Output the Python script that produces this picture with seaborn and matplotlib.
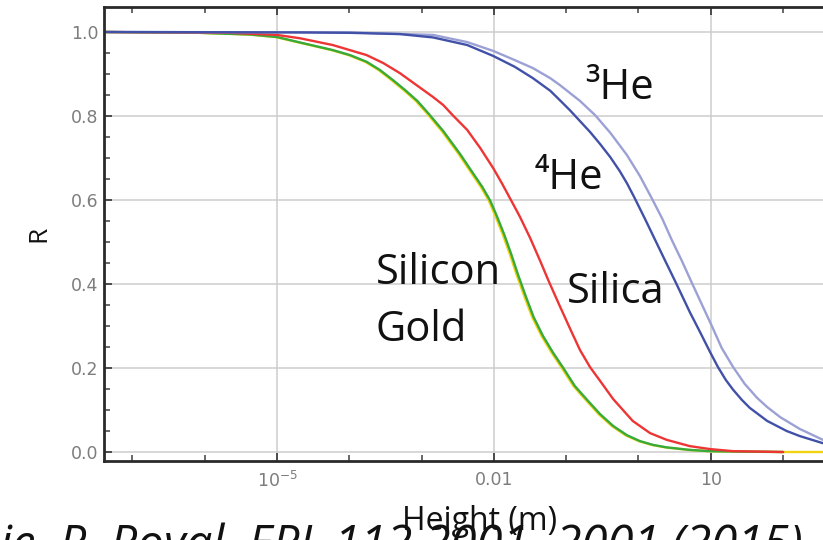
import numpy as np
import pandas as pd
import matplotlib
matplotlib.use("Agg")
import matplotlib.pyplot as plt
import seaborn as sns
from matplotlib.ticker import FixedLocator, FixedFormatter, NullFormatter

# Reflection probability R versus fall height, one curve per surface.
# Heights are stored as log10(height / m).
silicon_logh = [-7.39, -6.76, -6.07, -5.37, -5.00, -4.68, -4.23, -3.99, -3.76, -3.58,
                -3.40, -3.23, -3.06, -2.91, -2.70, -2.47, -2.29, -2.16, -2.05, -1.96,
                -1.86, -1.76, -1.67, -1.56, -1.45, -1.32, -1.18, -1.04, -0.88, -0.71,
                -0.53, -0.35, -0.16, 0.02, 0.20, 0.39, 0.71, 0.99, 1.40, 2.00]
silicon_r = [1.000, 0.999, 0.998, 0.994, 0.988, 0.975, 0.957, 0.945, 0.929, 0.910,
             0.886, 0.862, 0.836, 0.807, 0.764, 0.710, 0.664, 0.631, 0.598, 0.562,
             0.519, 0.471, 0.424, 0.371, 0.321, 0.276, 0.236, 0.200, 0.157, 0.124,
             0.090, 0.062, 0.040, 0.026, 0.017, 0.011, 0.005, 0.002, 0.001, 0.000]

gold_logh = [-7.39, -6.76, -6.07, -5.39, -5.02, -4.70, -4.25, -4.01, -3.78, -3.60,
             -3.42, -3.25, -3.08, -2.93, -2.72, -2.49, -2.31, -2.18, -2.07, -1.98,
             -1.88, -1.78, -1.69, -1.58, -1.47, -1.34, -1.20, -1.06, -0.90, -0.73,
             -0.55, -0.37, -0.18, 0.00, 0.18, 0.37, 0.69, 0.97, 1.38, 2.00, 2.60]
gold_r = [1.000, 0.999, 0.998, 0.994, 0.988, 0.975, 0.957, 0.945, 0.929, 0.910,
          0.886, 0.862, 0.836, 0.807, 0.764, 0.710, 0.664, 0.631, 0.598, 0.562,
          0.519, 0.471, 0.424, 0.371, 0.321, 0.276, 0.236, 0.200, 0.157, 0.124,
          0.090, 0.062, 0.040, 0.026, 0.017, 0.011, 0.005, 0.002, 0.001, 0.000, 0.000]

silica_logh = [-7.39, -5.65, -5.00, -4.68, -4.23, -3.76, -3.53, -3.30, -2.84, -2.70,
               -2.57, -2.37, -2.19, -2.01, -1.89, -1.78, -1.64, -1.50, -1.36, -1.25,
               -1.09, -0.95, -0.81, -0.67, -0.53, -0.35, -0.08, 0.16, 0.39, 0.71,
               0.99, 1.31, 2.00]
silica_r = [1.000, 0.998, 0.993, 0.985, 0.969, 0.945, 0.926, 0.902, 0.845, 0.826,
            0.802, 0.767, 0.724, 0.676, 0.640, 0.605, 0.560, 0.510, 0.455, 0.410,
            0.348, 0.295, 0.243, 0.202, 0.169, 0.126, 0.074, 0.045, 0.029, 0.014,
            0.007, 0.002, 0.000]

he4_logh = [-7.39, -4.68, -3.99, -3.30, -2.84, -2.37, -2.01, -1.71, -1.46, -1.22,
            -1.09, -0.95, -0.81, -0.67, -0.53, -0.39, -0.26, -0.16, -0.06, 0.09,
            0.23, 0.37, 0.52, 0.71, 0.85, 0.99, 1.10, 1.21, 1.31, 1.43,
            1.54, 1.78, 2.05, 2.23, 2.55]
he4_r = [1.000, 0.999, 0.998, 0.995, 0.987, 0.969, 0.943, 0.917, 0.890, 0.860,
         0.838, 0.814, 0.788, 0.762, 0.733, 0.702, 0.669, 0.640, 0.607, 0.555,
         0.505, 0.455, 0.402, 0.333, 0.286, 0.238, 0.202, 0.171, 0.148, 0.124,
         0.105, 0.074, 0.050, 0.038, 0.021]

he3_logh = [-7.39, -3.99, -2.84, -2.37, -2.01, -1.71, -1.46, -1.22, -1.09, -0.95,
            -0.81, -0.60, -0.39, -0.16, 0.02, 0.19, 0.33, 0.46, 0.60, 0.74,
            0.88, 1.02, 1.15, 1.31, 1.47, 1.64, 1.78, 1.96, 2.23, 2.55]
he3_r = [1.000, 0.999, 0.993, 0.976, 0.955, 0.933, 0.914, 0.890, 0.874, 0.855,
         0.836, 0.802, 0.760, 0.707, 0.657, 0.602, 0.555, 0.505, 0.455, 0.402,
         0.350, 0.298, 0.248, 0.202, 0.162, 0.129, 0.107, 0.083, 0.055, 0.029]

surfaces = ["Gold", "Silicon", "Silica", "3He", "4He"]
colors = ["#f2d313", "#36aa3a", "#ee3535", "#9ca1d5", "#4151a8"]

frames = []
for name, lh, r in [("Gold", gold_logh, gold_r),
                    ("Silicon", silicon_logh, silicon_r),
                    ("Silica", silica_logh, silica_r),
                    ("3He", he3_logh, he3_r),
                    ("4He", he4_logh, he4_r)]:
    frames.append(pd.DataFrame({"height": 10.0 ** np.asarray(lh),
                                "R": r, "surface": name}))
df = pd.concat(frames, ignore_index=True)

sns.set_style("white")
plt.rcParams["font.family"] = ["DejaVu Sans"]

fig = plt.figure(figsize=(8.23, 5.40), dpi=100)
ax = fig.add_axes([104 / 823, 79 / 540, 719 / 823, 453.7 / 540])

sns.lineplot(data=df, x="height", y="R", hue="surface", hue_order=surfaces,
             palette=colors, estimator=None, sort=False, legend=False,
             linewidth=1.7, ax=ax)
for line in ax.get_lines():
    line.set_solid_joinstyle("round")

ax.set_xscale("log")
ax.set_xlim(10 ** -7.393, 10 ** 2.552)
ax.set_ylim(-0.0214, 1.0588)

# ticks
ax.xaxis.set_major_locator(FixedLocator([1e-5, 1e-2, 1e1]))
ax.xaxis.set_major_formatter(FixedFormatter([r"$10^{-5}$", "0.01", "10"]))
ax.xaxis.set_minor_locator(FixedLocator([10.0 ** k for k in range(-7, 3)]))
ax.xaxis.set_minor_formatter(NullFormatter())
ax.yaxis.set_major_locator(FixedLocator([0.0, 0.2, 0.4, 0.6, 0.8, 1.0]))
ax.yaxis.set_major_formatter(FixedFormatter(["0.0", "0.2", "0.4", "0.6", "0.8", "1.0"]))
ax.yaxis.set_minor_locator(FixedLocator([0.05 * k for k in range(21)]))
ax.tick_params(axis="both", which="both", direction="in", color="#404040",
               labelcolor="#7d7d7d", labelsize=12.5)
ax.tick_params(axis="x", which="both", top=True, bottom=True)
ax.tick_params(axis="y", which="both", left=True, right=False)
ax.tick_params(which="major", length=6, width=1.3)
ax.tick_params(which="minor", length=4, width=1.1)
ax.tick_params(axis="x", which="major", pad=7)
ax.tick_params(axis="y", which="major", pad=4)

ax.grid(True, which="major", color="#cdcdcd", linewidth=1.1)
ax.set_axisbelow(True)
for side in ["left", "bottom", "top"]:
    ax.spines[side].set_visible(True)
    ax.spines[side].set_color("#2a2a2a")
    ax.spines[side].set_linewidth(2.0)
ax.spines["right"].set_visible(False)

label_font = ["Open Sans", "DejaVu Sans"]
ax.set_ylabel("R", family=label_font, fontsize=19, color="#111111", labelpad=14)
ax.set_xlabel("")
fig.text(480 / 823, 1 - 530 / 540, "Height (m)", family=label_font,
         fontsize=23, ha="center", va="baseline", color="#111111")

# curve labels
big = dict(family=label_font, fontsize=30, color="#111111", va="baseline",
           ha="left", transform=fig.transFigure)
fig.text(376 / 823, 1 - 284 / 540, "Silicon", **big)
fig.text(376 / 823, 1 - 341 / 540, "Gold", **big)
fig.text(567 / 823, 1 - 303 / 540, "Silica", **big)
fig.text(585 / 823, 1 - 99 / 540, "³He", **big)
fig.text(535 / 823, 1 - 189 / 540, "⁴He", **big)

# source line along the bottom edge, cut by the frame
fig.text(0.0, 1 - 523 / 540, "ie, P. Royal, EPL 112 2001- 2001 (2015)",
         family=label_font, style="italic", fontsize=34, color="#111111",
         ha="left", va="top")

fig.savefig("out.png", dpi=100)
